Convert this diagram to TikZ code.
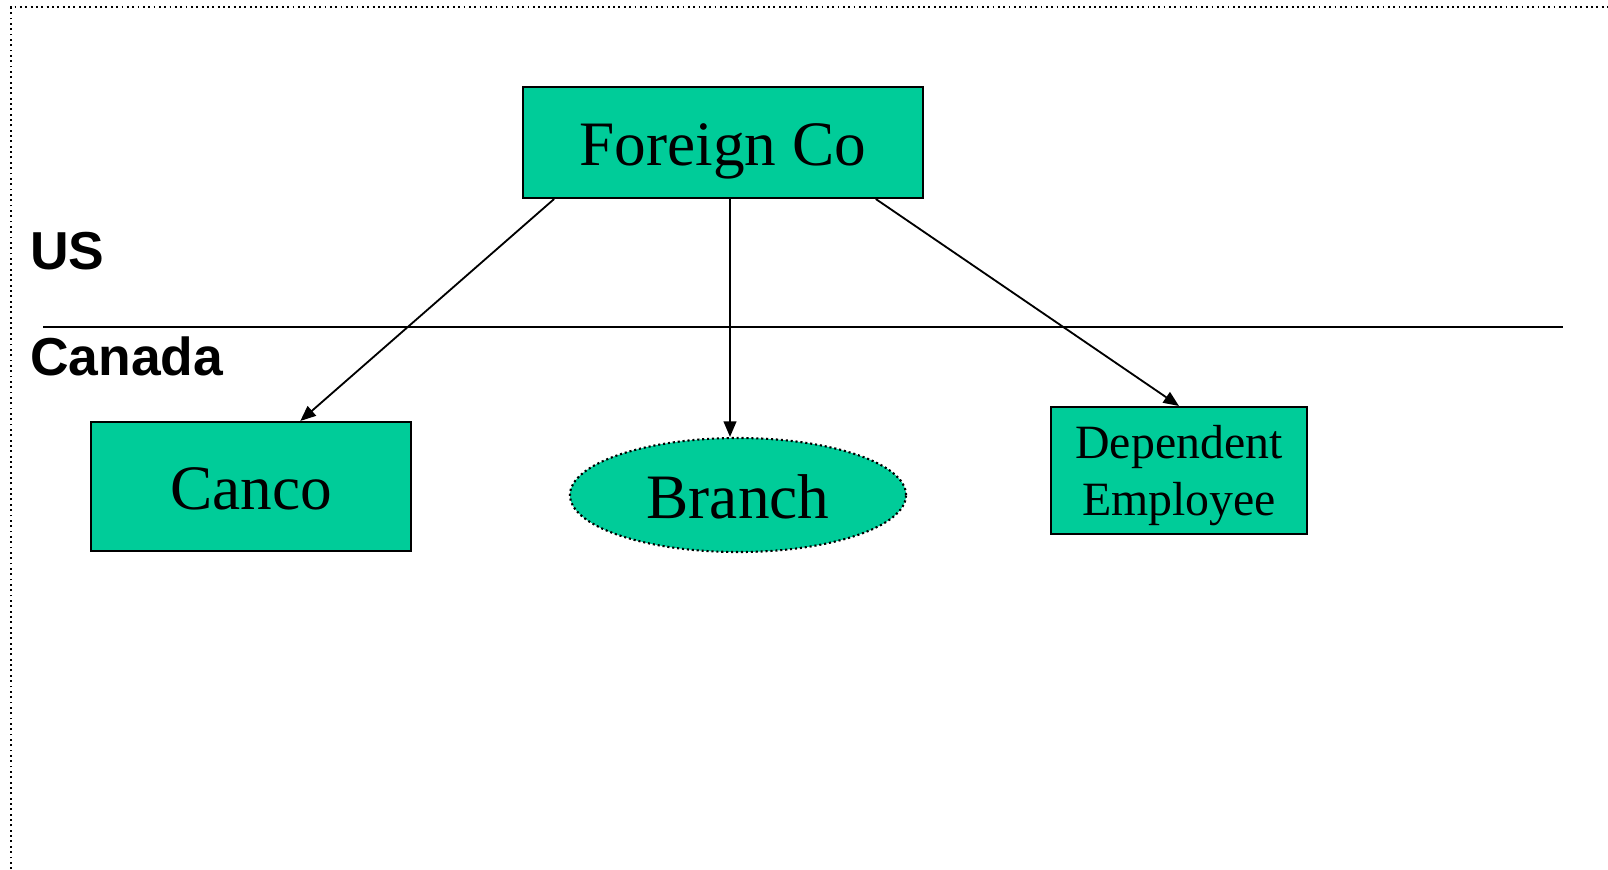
\documentclass[tikz,border=0pt]{standalone}
\usepackage{fontspec}
\setmainfont{Liberation Serif}
\setsansfont{Liberation Sans}
\usetikzlibrary{calc,arrows.meta,shapes.geometric}
\definecolor{boxgreen}{RGB}{0,204,153}
\tikzset{
  entity/.style={draw=black, fill=boxgreen, line width=1.4pt, inner sep=0pt, align=center},
  bigtext/.style={font=\fontsize{45}{54}\selectfont, text height=33.4pt, text depth=0pt},
  flow/.style={line width=1.3pt, -{Triangle[length=11pt,width=9pt]}},
  region/.style={font=\sffamily\bfseries\fontsize{38}{45}\selectfont, anchor=west, inner sep=0pt}
}

\begin{document}
\begin{tikzpicture}[x=0.025cm, y=-0.025cm]
			%%%%% START %%%%%
			\useasboundingbox (0, 0) rectangle (1608, 869);
			
			\draw[line width=1.4pt, dash pattern=on 1.3pt off 2.5pt] (11, 869) -- (11, 7) -- (1608, 7);
			
			\node[region] (us) at (30, 251) {US};
			\node[region] (canada) at (30, 356) {Canada};
			\draw[line width=1.8pt] (43, 327) -- (1563, 327);
			
			\node[entity, bigtext, minimum width=10cm, minimum height=2.775cm] (fc) at (723, 142.5) {Foreign Co};
			\node[entity, bigtext, minimum width=8cm, minimum height=3.225cm] (canco) at (251, 486.5) {Canco};
			\node[entity, bigtext, ellipse, minimum width=8.4cm, minimum height=2.85cm, line width=1.5pt, dotted] (branch) at (738, 495) {Branch};
			\node[entity, minimum width=6.4cm, minimum height=3.175cm, font=\fontsize{34}{41}\selectfont, text depth=0pt] (dep) at (1179, 470.5) {Dependent\\Employee};
			
			\draw[flow] ($(fc.south west)!0.08!(fc.south east)$) -- ($(canco.north west)!0.653!(canco.north east)$);
			\draw[flow] ($(fc.south)+(7,0)$) -- (branch.north -| {$(fc.south)+(7,0)$});
			\draw[flow] ($(fc.south west)!0.88!(fc.south east)$) -- (dep.north);
			%%%%% END %%%%%
		\end{tikzpicture}
\end{document}
